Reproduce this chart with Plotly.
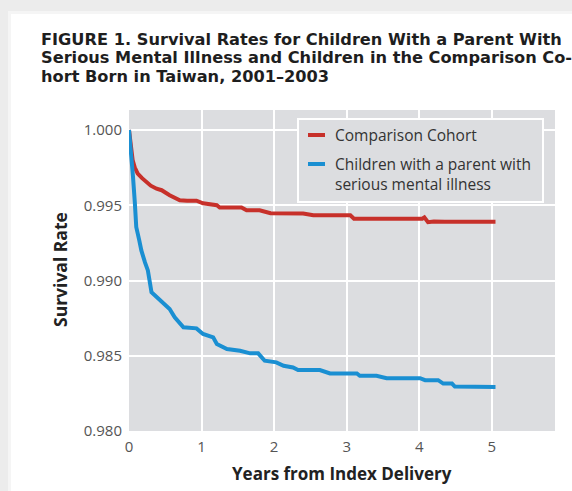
import plotly.graph_objects as go

# ---- data ----
years_comparison = [0, 0.02, 0.05, 0.08, 0.12, 0.18, 0.24, 0.30, 0.38, 0.45, 0.56, 0.63, 0.70,
                    0.80, 0.93, 1.02, 1.10, 1.21, 1.25, 1.55, 1.62, 1.80, 1.95, 2.10, 2.40, 2.54,
                    2.70, 3.05, 3.10, 3.50, 4.04, 4.07, 4.12, 4.20, 4.35, 5.05]
surv_comparison = [1.000, 0.9990, 0.9980, 0.9975, 0.9971, 0.9968, 0.99655, 0.9963, 0.9961, 0.9960,
                   0.99567, 0.9955, 0.99533, 0.9953, 0.9953, 0.99513, 0.9951, 0.9950, 0.99485,
                   0.99485, 0.99467, 0.99467, 0.99447, 0.99447, 0.99445, 0.99433, 0.99433,
                   0.99433, 0.99411, 0.99411, 0.99411, 0.99420, 0.99388, 0.99392, 0.9939, 0.9939]

years_smi = [0, 0.03, 0.055, 0.08, 0.10, 0.14, 0.17, 0.22, 0.26, 0.31, 0.43, 0.56, 0.63, 0.75,
             0.93, 1.02, 1.16, 1.21, 1.35, 1.53, 1.67, 1.78, 1.87, 2.03, 2.13, 2.26, 2.33, 2.63,
             2.77, 3.14, 3.18, 3.41, 3.55, 4.01, 4.08, 4.26, 4.33, 4.45, 4.49, 5.05]
surv_smi = [1.000, 0.9985, 0.9969, 0.9952, 0.99355, 0.9927, 0.9920, 0.9912, 0.99067, 0.98922,
            0.98867, 0.98811, 0.98756, 0.98689, 0.98682, 0.98645, 0.98622, 0.98578, 0.98545,
            0.98533, 0.98516, 0.98516, 0.98467, 0.98456, 0.98433, 0.98422, 0.98405, 0.98405,
            0.98382, 0.98382, 0.98367, 0.98367, 0.98351, 0.98351, 0.98338, 0.98338, 0.98315,
            0.98315, 0.98295, 0.98293]

series_names = ["Comparison Cohort", "Children with a parent with<br>serious mental illness"]
title_lines = ["FIGURE 1. Survival Rates for Children With a Parent With",
               "Serious Mental Illness and Children in the Comparison Co-",
               "hort Born in Taiwan, 2001–2003"]
x_ticks = [0, 1, 2, 3, 4, 5]
y_ticks = [0.980, 0.985, 0.990, 0.995, 1.000]
y_tick_labels = ["0.980", "0.985", "0.990", "0.995", "1.000"]

RED = "#c7302a"
BLUE = "#1a8fd2"
FONT = "Open Sans"
TITLE_FONT = "DejaVu Sans"

W, H = 572, 491
ML, MR, MT, MB = 129, 17, 110, 60
PW, PH = W - ML - MR, H - MT - MB


def px(x):
    return (x - ML) / PW


def py(y):
    return 1 - (y - MT) / PH


fig = go.Figure()
fig.add_trace(go.Scatter(x=years_comparison, y=surv_comparison, mode="lines",
                         line=dict(color=RED, width=4), name=series_names[0],
                         showlegend=False))
fig.add_trace(go.Scatter(x=years_smi, y=surv_smi, mode="lines",
                         line=dict(color=BLUE, width=4), name=series_names[1],
                         showlegend=False))

shapes = [
    # grey surround of the white card (outside the plot area)
    dict(type="rect", xref="paper", yref="paper", x0=px(-5), x1=px(600), y0=py(-5), y1=py(11),
         fillcolor="#ececec", line=dict(width=0), layer="above"),
    dict(type="rect", xref="paper", yref="paper", x0=px(-5), x1=px(8), y0=py(-5), y1=py(520),
         fillcolor="#ececec", line=dict(width=0), layer="above"),
    dict(type="rect", xref="paper", yref="paper", x0=px(8), x1=px(600), y0=py(11), y1=py(14),
         fillcolor="#f5f5f5", line=dict(width=0), layer="above"),
    dict(type="rect", xref="paper", yref="paper", x0=px(8), x1=px(11), y0=py(14), y1=py(520),
         fillcolor="#f5f5f5", line=dict(width=0), layer="above"),
    # legend box
    dict(type="rect", xref="paper", yref="paper", x0=px(298), x1=px(543), y0=py(119), y1=py(202),
         fillcolor="#dcdde0", line=dict(color="white", width=2), layer="above"),
    dict(type="line", xref="paper", yref="paper", x0=px(308), x1=px(325), y0=py(135), y1=py(135),
         line=dict(color=RED, width=4)),
    dict(type="line", xref="paper", yref="paper", x0=px(308), x1=px(325), y0=py(164), y1=py(164),
         line=dict(color=BLUE, width=4)),
]

annotations = []
for line, ymid in zip(title_lines, [40, 58, 76]):
    annotations.append(dict(text="<b>" + line + "</b>", xref="paper", yref="paper",
                            x=px(39), y=py(ymid), xanchor="left", yanchor="middle",
                            align="left", showarrow=False,
                            font=dict(family=TITLE_FONT, size=16.2, color="#1e1e1e")))
annotations += [
    dict(text=series_names[0], xref="paper", yref="paper", x=px(333), y=py(135),
         xanchor="left", yanchor="middle", showarrow=False,
         font=dict(family=FONT, size=15.5, color="#333")),
    dict(text=series_names[1], xref="paper", yref="paper", x=px(333), y=py(174),
         xanchor="left", yanchor="middle", align="left", showarrow=False,
         font=dict(family=FONT, size=15.5, color="#333")),
    dict(text="<b>Survival Rate</b>", xref="paper", yref="paper", x=px(60), y=py(270),
         xanchor="center", yanchor="middle", textangle=-90, showarrow=False,
         font=dict(family=FONT, size=17.5, color="#222")),
    dict(text="<b>Years from Index Delivery</b>", xref="paper", yref="paper", x=px(342), y=py(473),
         xanchor="center", yanchor="middle", showarrow=False,
         font=dict(family=FONT, size=17, color="#222")),
]

fig.update_layout(
    width=W, height=H,
    margin=dict(l=ML, r=MR, t=MT, b=MB),
    paper_bgcolor="white",
    plot_bgcolor="#dcdde0",
    font=dict(family=FONT, size=15, color="#555"),
    shapes=shapes,
    annotations=annotations,
    xaxis=dict(range=[0, 5.87], tickvals=x_ticks, ticktext=[str(t) for t in x_ticks],
               showgrid=True, gridcolor="white", gridwidth=2, zeroline=False,
               showline=False, ticks="outside", ticklen=2, tickcolor="rgba(0,0,0,0)",
               tickfont=dict(family=FONT, size=15, color="#555")),
    yaxis=dict(range=[0.980, 1.00133], tickvals=y_ticks, ticktext=y_tick_labels,
               showgrid=True, gridcolor="white", gridwidth=2, zeroline=False,
               showline=False, ticks="outside", ticklen=3, tickcolor="rgba(0,0,0,0)",
               tickfont=dict(family=FONT, size=15, color="#555")),
)

fig.write_html("out.html", config={"displayModeBar": False},
               post_script="document.body.style.margin='0px';")
